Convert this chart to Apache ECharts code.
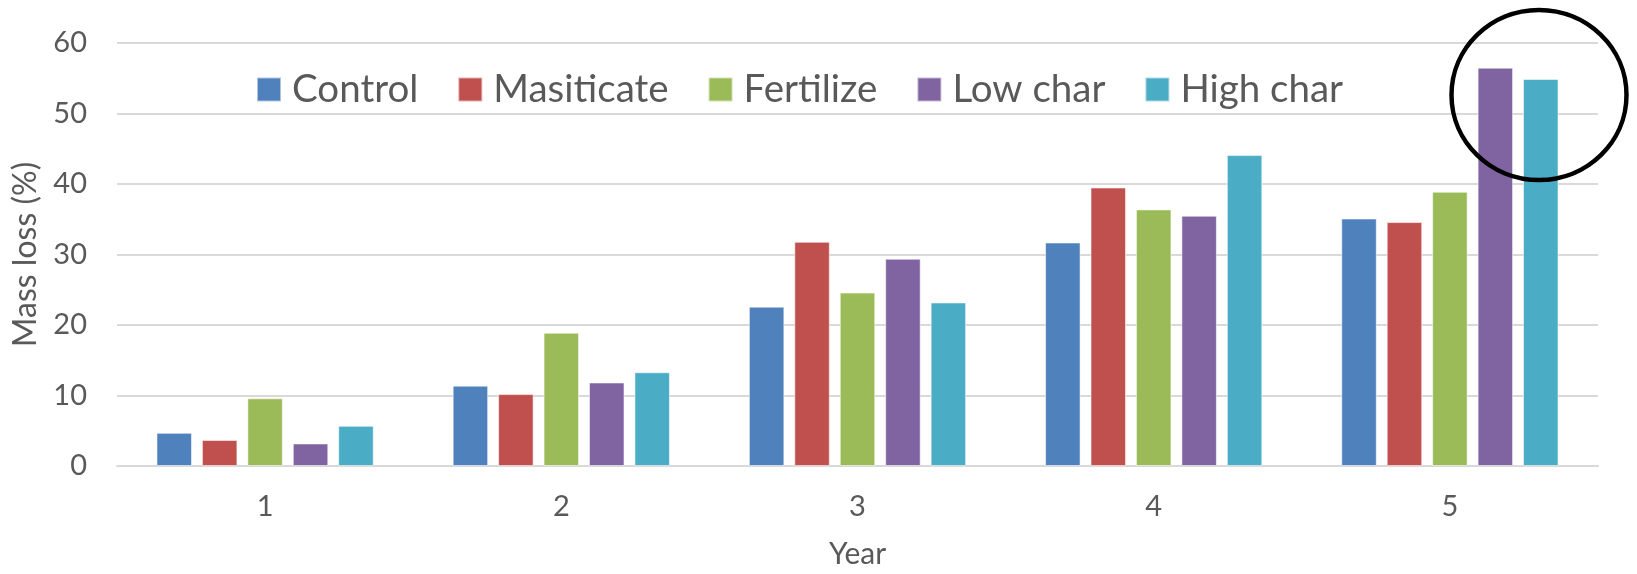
<!DOCTYPE html>
<html>
<head>
<meta charset="utf-8">
<script src="https://cdn.jsdelivr.net/npm/echarts@6/dist/echarts.min.js"></script>
<style>
html,body{margin:0;padding:0;background:#fff;}
#chart{width:1637px;height:574px;}
</style>
</head>
<body>
<div id="chart"></div>
<script>
const categories = ['1', '2', '3', '4', '5'];
const seriesNames = ['Control', 'Masiticate', 'Fertilize', 'Low char', 'High char'];
const control = [4.7, 11.4, 22.6, 31.7, 35.1];
const masiticate = [3.7, 10.2, 31.8, 39.5, 34.6];
const fertilize = [9.6, 18.9, 24.6, 36.4, 38.9];
const lowChar = [3.2, 11.85, 29.4, 35.5, 56.5];
const highChar = [5.7, 13.3, 23.2, 44.1, 54.9];
const yTicks = [0, 10, 20, 30, 40, 50, 60];

const colors = ['#4F81BD', '#C0504D', '#9BBB59', '#8064A2', '#4BACC6'];
const values = [control, masiticate, fertilize, lowChar, highChar];
const font = 'Lato';
const textColor = '#595959';

const chart = echarts.init(document.getElementById('chart'), null, {renderer: 'canvas'});
chart.setOption({
  animation: false,
  color: colors,
  grid: {left: 117, right: 39, top: 43, bottom: 105, containLabel: false},
  legend: {
    data: seriesNames,
    left: 251,
    top: 65,
    itemWidth: 24,
    itemHeight: 24,
    itemGap: 39,
    icon: 'rect',
    textStyle: {fontFamily: font, fontSize: 38.5, color: textColor, padding: [0, 0, 0, 6]}
  },
  xAxis: {
    type: 'category',
    data: categories,
    name: 'Year',
    nameLocation: 'middle',
    nameGap: 73,
    nameTextStyle: {fontFamily: font, fontSize: 30, color: textColor},
    axisLine: {show: true, lineStyle: {color: '#D9D9D9', width: 2}},
    axisTick: {show: false},
    axisLabel: {fontFamily: font, fontSize: 29, color: textColor, margin: 26}
  },
  yAxis: {
    type: 'value',
    min: yTicks[0],
    max: yTicks[yTicks.length - 1],
    interval: 10,
    name: 'Mass loss (%)',
    nameLocation: 'middle',
    nameGap: 75,
    nameTextStyle: {fontFamily: font, fontSize: 32, color: textColor},
    axisLine: {show: false},
    axisTick: {show: false},
    axisLabel: {fontFamily: font, fontSize: 29, color: textColor, margin: 30},
    splitLine: {lineStyle: {color: '#D9D9D9', width: 2}}
  },
  series: seriesNames.map((name, i) => ({
    name: name,
    type: 'bar',
    data: values[i],
    barWidth: 35.5,
    barGap: '28%',
    itemStyle: {color: colors[i], borderColor: 'rgba(255,255,255,0.55)', borderWidth: 1}
  })),
  graphic: [{
    type: 'ellipse',
    shape: {cx: 1539, cy: 95, rx: 87.5, ry: 85},
    style: {fill: 'none', stroke: '#000', lineWidth: 4.5},
    z: 100
  }]
});
</script>
</body>
</html>
